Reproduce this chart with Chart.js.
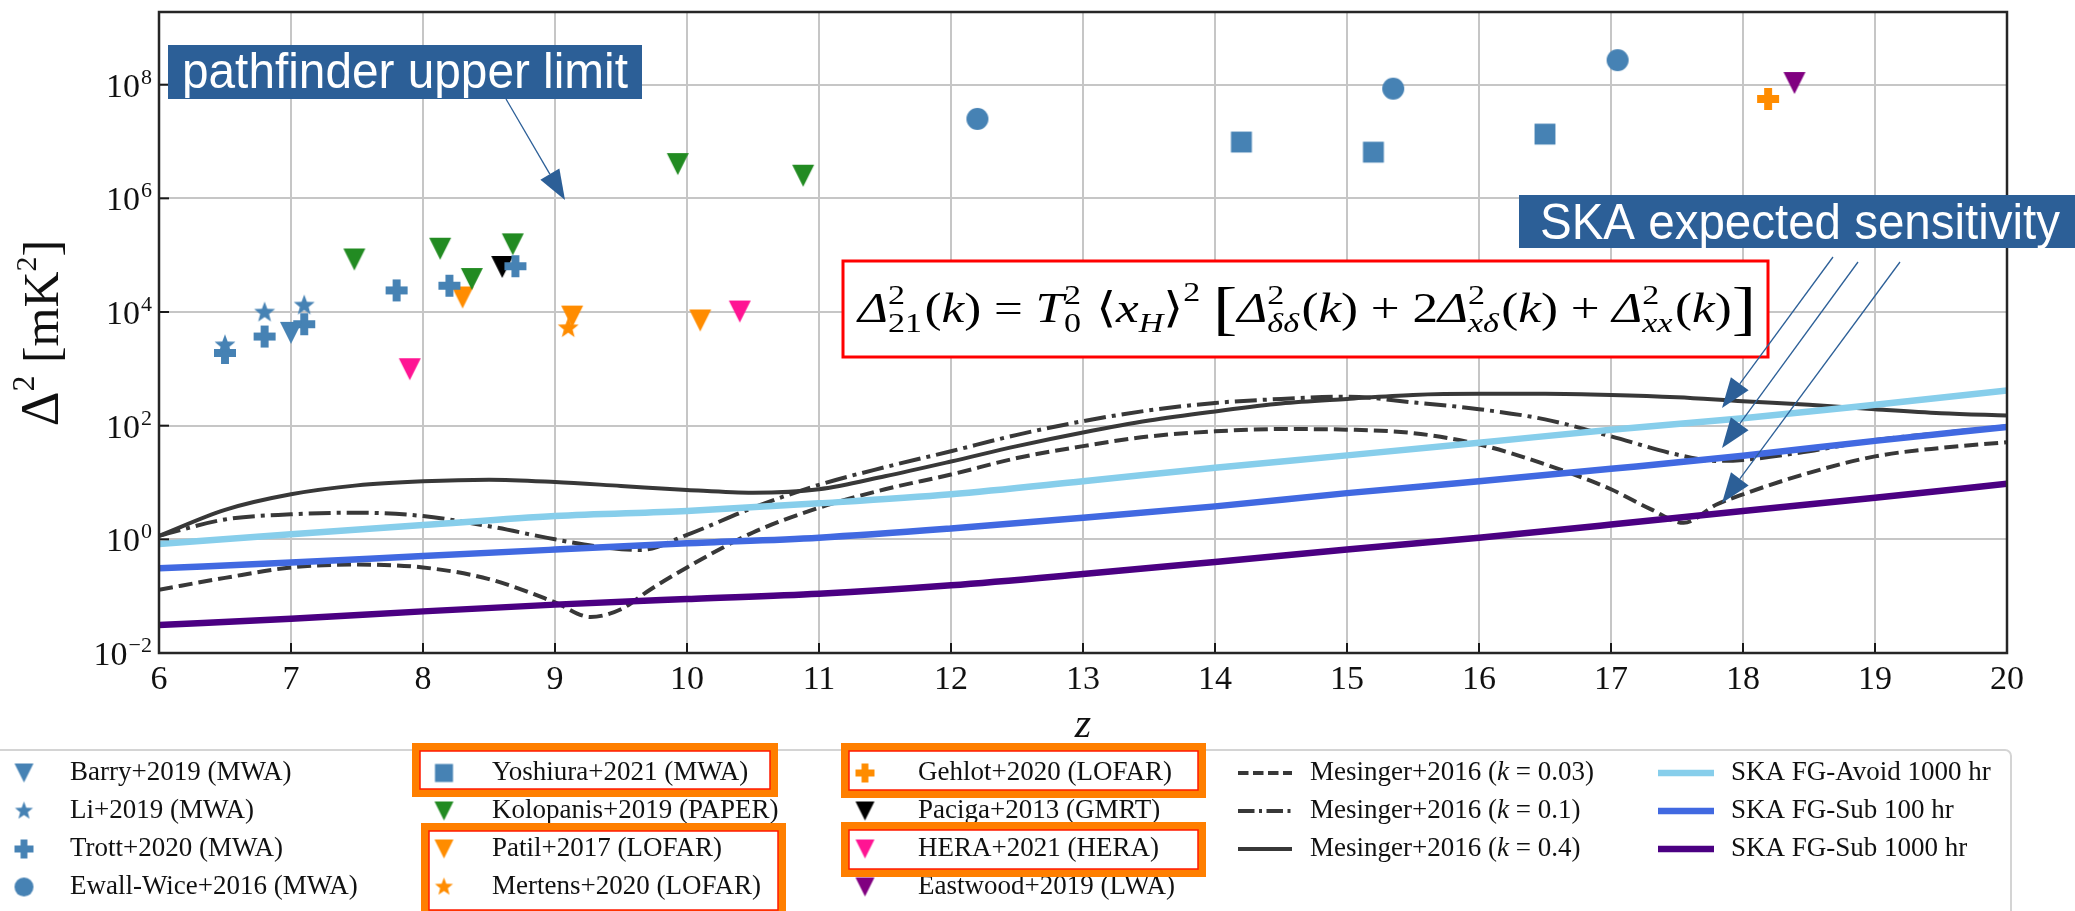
<!DOCTYPE html>
<html>
<head>
<meta charset="utf-8">
<script src="https://cdn.jsdelivr.net/npm/chart.js@4.4.1/dist/chart.umd.min.js"></script>
<style>
  html, body { margin: 0; padding: 0; background: #ffffff; overflow: hidden; }
  #wrap { width: 2075px; height: 911px; position: relative; }
</style>
</head>
<body>
<div id="wrap"><canvas id="c" width="2075" height="911"></canvas></div>
<script>
// ---------- axis ticks ----------
const zTicks = [6, 7, 8, 9, 10, 11, 12, 13, 14, 15, 16, 17, 18, 19, 20];
const powerTickValues = [1e-2, 1, 1e2, 1e4, 1e6, 1e8];
const powerTickExponents = ['\u22122', '0', '2', '4', '6', '8'];

// ---------- Mesinger+2016 model curves (z, Δ² in mK²) ----------
const zMes003 = [6, 6.5, 7, 7.5, 8, 8.5, 9, 9.27, 9.5, 9.72, 10, 10.5, 11, 11.5, 12, 12.5, 13, 13.5, 14, 14.5, 15, 15.5, 16, 16.5, 17, 17.3, 17.55, 17.8, 18, 18.5, 19, 19.5, 20];
const dMes003 = [0.13, 0.21, 0.32, 0.36, 0.32, 0.20, 0.078, 0.043, 0.059, 0.13, 0.32, 1.32, 3.6, 7.6, 13.8, 26.9, 43.7, 64.6, 79.4, 87.1, 85.1, 74.1, 46.8, 20.9, 7.6, 3.4, 1.95, 4.1, 6.2, 14.8, 28.8, 40.7, 51.3];

const zMes01 = [6, 6.5, 7, 7.5, 8, 8.5, 9, 9.3, 9.65, 10, 10.5, 11, 11.5, 12, 12.5, 13, 13.5, 14, 14.5, 15, 15.5, 16, 16.5, 17, 17.5, 17.8, 18, 18.5, 19, 19.5, 20];
const dMes01 = [1.15, 2.24, 2.75, 2.95, 2.57, 1.70, 1.0, 0.76, 0.65, 1.2, 3.6, 9.1, 18.6, 35.5, 69, 120, 186, 251, 295, 324, 257, 195, 129, 65, 31, 24, 25, 35.5, 56, 74, 98];

const zMes04 = [6, 6.5, 7, 7.5, 8, 8.5, 9, 9.5, 10, 10.5, 11, 11.5, 12, 12.5, 13, 13.5, 14, 14.5, 15, 15.5, 16, 16.5, 17, 17.5, 18, 18.5, 19, 19.5, 20];
const dMes04 = [1.15, 3.3, 6.2, 8.9, 10.5, 11.2, 10.2, 8.7, 7.4, 6.6, 7.6, 12.9, 23.4, 43.7, 75.9, 123, 178, 245, 295, 347, 363, 363, 347, 316, 269, 234, 195, 166, 151];

// ---------- SKA sensitivity curves ----------
const zSKA = [6, 7, 8, 9, 10, 11, 12, 13, 14, 15, 16, 17, 18, 19, 20];
const dSkaAvoid1000 = [0.83, 1.23, 1.78, 2.57, 3.16, 4.3, 6.2, 10.5, 18.2, 30, 50, 85, 135, 234, 417];
const dSkaSub100 = [0.31, 0.39, 0.51, 0.66, 0.85, 1.07, 1.55, 2.4, 3.8, 6.5, 10.5, 17.4, 29.5, 54, 95];
const dSkaSub1000 = [0.031, 0.040, 0.054, 0.071, 0.089, 0.11, 0.155, 0.245, 0.40, 0.66, 1.07, 1.82, 3.16, 5.4, 9.5];

// ---------- measured upper limits ----------
const barryZ = [7.0], barryD = [4300];
const liZ = [6.5, 6.8, 7.1], liD = [2600, 9800, 13000];
const trottZ = [6.5, 6.8, 7.1, 7.8, 8.2, 8.7], trottD = [1900, 3700, 6100, 24000, 29000, 64000];
const ewallZ = [12.2, 15.35, 17.05], ewallD = [2.5e7, 8.5e7, 2.7e8];
const yoshiuraZ = [14.2, 15.2, 16.5], yoshiuraD = [9.8e6, 6.5e6, 1.35e7];
const kolopanisZ = [7.48, 8.13, 8.37, 8.68, 9.93, 10.88], kolopanisD = [8.4e4, 1.3e5, 3.8e4, 1.55e5, 4.0e6, 2.5e6];
const patilZ = [8.3, 9.13, 10.1], patilD = [18000, 8300, 7100];
const mertensZ = [9.1], mertensD = [5200];
const gehlotZ = [18.19], gehlotD = [5.6e7];
const pacigaZ = [8.6], pacigaD = [6.2e4];
const heraZ = [7.9, 10.4], heraD = [985, 10200];
const eastwoodZ = [18.39], eastwoodD = [1.07e8];

const SERIF = '"Liberation Serif", "DejaVu Serif", serif';
const SANS = '"Liberation Sans", Arial, sans-serif';

// filled marker glyphs used as point styles
function markerCanvas(shape, color, size) {
  const pad = 2, s = Math.ceil(size + pad * 2);
  const cv = document.createElement('canvas');
  cv.width = s; cv.height = s;
  const g = cv.getContext('2d');
  g.fillStyle = color;
  g.translate(s / 2, s / 2);
  const r = size / 2;
  g.beginPath();
  if (shape === 'v') {
    g.moveTo(-r, -r); g.lineTo(r, -r); g.lineTo(0, r); g.closePath();
  } else if (shape === 'o') {
    g.arc(0, 0, r, 0, Math.PI * 2);
  } else if (shape === 's') {
    g.rect(-r * 0.95, -r * 0.95, r * 1.9, r * 1.9);
  } else if (shape === '*') {
    for (let i = 0; i < 10; i++) {
      const a = -Math.PI / 2 + i * Math.PI / 5;
      const rr = i % 2 ? r * 0.42 : r;
      const px = rr * Math.cos(a), py = rr * Math.sin(a);
      if (i === 0) g.moveTo(px, py); else g.lineTo(px, py);
    }
    g.closePath();
  } else if (shape === 'P') {
    const w = r * 0.36;
    g.moveTo(-w, -r); g.lineTo(w, -r); g.lineTo(w, -w); g.lineTo(r, -w); g.lineTo(r, w);
    g.lineTo(w, w); g.lineTo(w, r); g.lineTo(-w, r); g.lineTo(-w, w); g.lineTo(-r, w);
    g.lineTo(-r, -w); g.lineTo(-w, -w); g.closePath();
  }
  g.fill();
  return cv;
}

const pointSeries = [
  { label: 'Barry+2019 (MWA)', z: barryZ, d: barryD, shape: 'v', color: '#4682b4' },
  { label: 'Li+2019 (MWA)', z: liZ, d: liD, shape: '*', color: '#4682b4' },
  { label: 'Trott+2020 (MWA)', z: trottZ, d: trottD, shape: 'P', color: '#4682b4' },
  { label: 'Ewall-Wice+2016 (MWA)', z: ewallZ, d: ewallD, shape: 'o', color: '#4682b4' },
  { label: 'Yoshiura+2021 (MWA)', z: yoshiuraZ, d: yoshiuraD, shape: 's', color: '#4682b4' },
  { label: 'Kolopanis+2019 (PAPER)', z: kolopanisZ, d: kolopanisD, shape: 'v', color: '#228b22' },
  { label: 'Patil+2017 (LOFAR)', z: patilZ, d: patilD, shape: 'v', color: '#ff8c00' },
  { label: 'Mertens+2020 (LOFAR)', z: mertensZ, d: mertensD, shape: '*', color: '#ff8c00' },
  { label: 'Gehlot+2020 (LOFAR)', z: gehlotZ, d: gehlotD, shape: 'P', color: '#ff8c00' },
  { label: 'Paciga+2013 (GMRT)', z: pacigaZ, d: pacigaD, shape: 'v', color: '#000000' },
  { label: 'HERA+2021 (HERA)', z: heraZ, d: heraD, shape: 'v', color: '#ff1493' },
  { label: 'Eastwood+2019 (LWA)', z: eastwoodZ, d: eastwoodD, shape: 'v', color: '#800080' }
];

const curveSeries = [
  { label: 'Mesinger+2016 (k = 0.03)', z: zMes003, d: dMes003, color: '#383838', width: 4, dash: [14, 6] },
  { label: 'Mesinger+2016 (k = 0.1)', z: zMes01, d: dMes01, color: '#383838', width: 4, dash: [22, 6, 4, 6] },
  { label: 'Mesinger+2016 (k = 0.4)', z: zMes04, d: dMes04, color: '#383838', width: 4, dash: [] },
  { label: 'SKA FG-Avoid 1000 hr', z: zSKA, d: dSkaAvoid1000, color: '#87ceeb', width: 6.5, dash: [] },
  { label: 'SKA FG-Sub 100 hr', z: zSKA, d: dSkaSub100, color: '#4169e1', width: 6.5, dash: [] },
  { label: 'SKA FG-Sub 1000 hr', z: zSKA, d: dSkaSub1000, color: '#4b0082', width: 6.5, dash: [] }
];

const toXY = (zs, ds) => zs.map((z, i) => ({ x: z, y: ds[i] }));

const datasets = [];
pointSeries.forEach(s => {
  s.img = markerCanvas(s.shape, s.color, 22);
  s.legendImg = markerCanvas(s.shape, s.color, 19);
  datasets.push({
    label: s.label, data: toXY(s.z, s.d), showLine: false,
    pointStyle: s.img, pointRadius: 11, pointHoverRadius: 11,
    backgroundColor: s.color, borderColor: s.color
  });
});
// SKA curves above the model curves
[3, 4, 5, 0, 1, 2].forEach(i => {
  const s = curveSeries[i];
  datasets.push({
    label: s.label, data: toXY(s.z, s.d), showLine: true, pointRadius: 0,
    borderColor: s.color, borderWidth: s.width, borderDash: s.dash,
    cubicInterpolationMode: 'monotone', fill: false, borderCapStyle: 'butt'
  });
});

// ---------- drawing helpers ----------
function fitText(ctx, text, x0, x1, baseY, font, color) {
  ctx.save();
  ctx.font = font; ctx.fillStyle = color; ctx.textBaseline = 'alphabetic'; ctx.textAlign = 'left';
  const w = ctx.measureText(text).width;
  ctx.translate(x0, baseY); ctx.scale((x1 - x0) / w, 1);
  ctx.fillText(text, 0, 0);
  ctx.restore();
}

function arrow(ctx, x1, y1, x2, y2, color) {
  const ang = Math.atan2(y2 - y1, x2 - x1);
  const hl = 30, hw = 11;
  const bx = x2 - hl * Math.cos(ang), by = y2 - hl * Math.sin(ang);
  ctx.save();
  ctx.strokeStyle = color; ctx.fillStyle = color; ctx.lineWidth = 1.3;
  ctx.beginPath(); ctx.moveTo(x1, y1); ctx.lineTo(bx, by); ctx.stroke();
  ctx.beginPath();
  ctx.moveTo(x2, y2);
  ctx.lineTo(bx + hw * Math.sin(ang), by - hw * Math.cos(ang));
  ctx.lineTo(bx - hw * Math.sin(ang), by + hw * Math.cos(ang));
  ctx.closePath(); ctx.fill();
  ctx.restore();
}

function drawEquation(ctx, x0, x1, baseY) {
  const M = 42, S = 28, B = 60;
  const it = s => `italic ${s}px ${SERIF}`;
  const up = s => `${s}px ${SERIF}`;
  const sup = -18, sub = 10;
  const D = ['\u0394', it(M), 0];
  const st = (b, ital) => ({ stack: [['2', up(S), sup], [b, ital ? it(S) : up(S), sub]] });
  const K = [['(', up(M), 0], ['k', it(M), 0], [')', up(M), 0]];
  const toks = [
    D, st('21', false), ...K, [' = ', up(M), 0],
    ['T', it(M), 0], st('0', false), [' \u27E8', up(M), 0], ['x', it(M), 0], ['H', it(S), sub],
    ['\u27E9', up(M), 0], ['2', up(S), sup - 3], [' ', up(M), 0], ['[', up(B), 6],
    D, st('\u03B4\u03B4', true), ...K, [' + 2', up(M), 0],
    D, st('x\u03B4', true), ...K, [' + ', up(M), 0],
    D, st('xx', true), ...K, [']', up(B), 6]
  ];
  const widthOf = t => {
    if (t.stack) {
      return Math.max(...t.stack.map(p => { ctx.font = p[1]; return ctx.measureText(p[0]).width; })) + 2;
    }
    ctx.font = t[1];
    return ctx.measureText(t[0]).width;
  };
  ctx.save();
  const total = toks.reduce((a, t) => a + widthOf(t), 0);
  ctx.translate(x0, baseY);
  ctx.scale((x1 - x0) / total, 1);
  ctx.fillStyle = '#000'; ctx.textBaseline = 'alphabetic'; ctx.textAlign = 'left';
  let x = 0;
  toks.forEach(t => {
    const w = widthOf(t);
    const parts = t.stack ? t.stack : [t];
    parts.forEach(p => { ctx.font = p[1]; ctx.fillText(p[0], x, p[2]); });
    x += w;
  });
  ctx.restore();
}

// text with an italic "k" inside "(k = ...)"
const LEG_SIZE = 27;
function drawLegendLabel(ctx, label, x, y) {
  const font = `${LEG_SIZE}px ${SERIF}`;
  const m = label.match(/^(.*\()k( = .*)$/);
  ctx.textBaseline = 'middle'; ctx.textAlign = 'left'; ctx.fillStyle = '#111';
  if (!m) { ctx.font = font; ctx.fillText(label, x, y); return; }
  ctx.font = font; ctx.fillText(m[1], x, y);
  let xx = x + ctx.measureText(m[1]).width;
  ctx.font = `italic ${LEG_SIZE}px ${SERIF}`; ctx.fillText('k', xx, y);
  xx += ctx.measureText('k').width;
  ctx.font = font; ctx.fillText(m[2], xx, y);
}

const legendRows = [773, 811, 849, 887];
const legendColumns = [
  { mx: 24, tx: 70, kind: 'pt', items: [0, 1, 2, 3] },
  { mx: 444, tx: 492, kind: 'pt', items: [4, 5, 6, 7] },
  { mx: 865, tx: 918, kind: 'pt', items: [8, 9, 10, 11] },
  { lx0: 1238, lx1: 1292, tx: 1310, kind: 'ln', items: [0, 1, 2] },
  { lx0: 1658, lx1: 1714, tx: 1731, kind: 'ln', items: [3, 4, 5] }
];
const highlightBoxes = [
  [412, 743, 778, 797], [421, 823, 786, 918], [841, 743, 1206, 798], [841, 822, 1206, 877]
];

const decor = {
  id: 'decor',
  afterDatasetsDraw(chart) {
    const ctx = chart.ctx, a = chart.chartArea;
    const xs = chart.scales.x, ys = chart.scales.y;
    ctx.save();
    // inward tick marks
    ctx.strokeStyle = '#1a1a1a'; ctx.lineWidth = 2;
    zTicks.forEach(v => {
      const px = xs.getPixelForValue(v);
      ctx.beginPath(); ctx.moveTo(px, a.bottom); ctx.lineTo(px, a.bottom - 10); ctx.stroke();
    });
    powerTickValues.forEach(v => {
      const py = ys.getPixelForValue(v);
      ctx.beginPath(); ctx.moveTo(a.left, py); ctx.lineTo(a.left + 10, py); ctx.stroke();
    });
    // frame
    ctx.strokeStyle = '#262626'; ctx.lineWidth = 2.5;
    ctx.strokeRect(a.left, a.top, a.right - a.left, a.bottom - a.top);
    ctx.restore();
  },
  afterDraw(chart) {
    const ctx = chart.ctx, a = chart.chartArea;
    const xs = chart.scales.x, ys = chart.scales.y;
    ctx.save();
    // x tick labels
    ctx.fillStyle = '#111'; ctx.font = `34px ${SERIF}`;
    ctx.textAlign = 'center'; ctx.textBaseline = 'alphabetic';
    zTicks.forEach(v => ctx.fillText(String(v), xs.getPixelForValue(v), 689));
    // y tick labels 10^n
    powerTickValues.forEach((v, i) => {
      const py = ys.getPixelForValue(v);
      const ex = powerTickExponents[i];
      ctx.textAlign = 'left';
      ctx.font = `22px ${SERIF}`;
      const we = ctx.measureText(ex).width;
      ctx.font = `34px ${SERIF}`;
      const wb = ctx.measureText('10').width;
      const right = a.left - 7;
      ctx.fillText('10', right - we - wb - 1, py + 12);
      ctx.font = `22px ${SERIF}`;
      ctx.fillText(ex, right - we, py - 1);
    });
    // axis titles
    ctx.font = `italic 42px ${SERIF}`; ctx.textAlign = 'center';
    ctx.fillText('z', (a.left + a.right) / 2, 737);
    ctx.save();
    const parts = [['\u0394', 54, 0], ['2', 32, -24], [' [mK', 50, 0], ['2', 30, -22], [']', 50, 0]];
    let tw = 0;
    parts.forEach(p => { ctx.font = `${p[1]}px ${SERIF}`; p.w = ctx.measureText(p[0]).width; tw += p.w; });
    ctx.translate(58, 333 + tw / 2); ctx.rotate(-Math.PI / 2);
    ctx.textAlign = 'left';
    let tx = 0;
    parts.forEach(p => { ctx.font = `${p[1]}px ${SERIF}`; ctx.fillText(p[0], tx, p[2]); tx += p.w; });
    ctx.restore();

    // legend
    ctx.save();
    ctx.fillStyle = '#ffffff'; ctx.strokeStyle = '#d4d4d4'; ctx.lineWidth = 2;
    ctx.beginPath(); ctx.roundRect(-12, 750, 2023, 200, 6); ctx.fill(); ctx.stroke();
    legendColumns.forEach(col => {
      col.items.forEach((idx, r) => {
        const y = legendRows[r];
        if (col.kind === 'pt') {
          const s = pointSeries[idx];
          ctx.drawImage(s.legendImg, col.mx - s.legendImg.width / 2, y - s.legendImg.height / 2);
          drawLegendLabel(ctx, s.label, col.tx, y);
        } else {
          const s = curveSeries[idx];
          ctx.save();
          ctx.strokeStyle = s.color; ctx.lineWidth = s.width; ctx.setLineDash(s.dash.map(d => d * 0.75));
          ctx.beginPath(); ctx.moveTo(col.lx0, y); ctx.lineTo(col.lx1, y); ctx.stroke();
          ctx.restore();
          drawLegendLabel(ctx, s.label, col.tx, y);
        }
      });
    });
    highlightBoxes.forEach(b => {
      ctx.strokeStyle = '#ff7f00'; ctx.lineWidth = 8;
      ctx.strokeRect(b[0] + 4, b[1] + 4, b[2] - b[0] - 8, b[3] - b[1] - 8);
      ctx.strokeStyle = '#ff1a00'; ctx.lineWidth = 1.5;
      ctx.strokeRect(b[0] + 8, b[1] + 8, b[2] - b[0] - 16, b[3] - b[1] - 16);
    });
    ctx.restore();

    // equation box
    ctx.fillStyle = '#ffffff'; ctx.fillRect(843, 261, 925, 96);
    ctx.strokeStyle = '#ff0000'; ctx.lineWidth = 3; ctx.strokeRect(843, 261, 925, 96);
    drawEquation(ctx, 858, 1756, 322);

    // annotation call-outs
    const blue = '#2c5f97';
    ctx.fillStyle = blue; ctx.fillRect(168, 45, 474, 54);
    fitText(ctx, 'pathfinder upper limit', 182, 628, 88, `50px ${SANS}`, '#ffffff');
    arrow(ctx, 506, 99, 565, 200, blue);

    ctx.fillStyle = blue; ctx.fillRect(1519, 195, 560, 53);
    fitText(ctx, 'SKA expected sensitivity', 1540, 2060, 239, `50px ${SANS}`, '#ffffff');
    arrow(ctx, 1833, 257, 1722, 408, blue);
    arrow(ctx, 1858, 262, 1722, 448, blue);
    arrow(ctx, 1900, 262, 1722, 503, blue);
    ctx.restore();
  }
};

new Chart(document.getElementById('c'), {
  type: 'scatter',
  data: { datasets },
  options: {
    responsive: false,
    animation: false,
    events: [],
    devicePixelRatio: 1,
    layout: { padding: { left: 159, right: 68, top: 11, bottom: 258 } },
    plugins: { legend: { display: false }, tooltip: { enabled: false }, title: { display: false } },
    scales: {
      x: {
        type: 'linear', min: 6, max: 20,
        afterBuildTicks: s => { s.ticks = zTicks.map(v => ({ value: v })); },
        ticks: { display: false },
        grid: { color: '#c6c6c6', lineWidth: 2, drawTicks: false },
        border: { display: false }
      },
      y: {
        type: 'logarithmic', min: 0.01, max: 1.9e9,
        afterBuildTicks: s => { s.ticks = powerTickValues.map(v => ({ value: v })); },
        ticks: { display: false },
        grid: { color: '#c6c6c6', lineWidth: 2, drawTicks: false },
        border: { display: false }
      }
    }
  },
  plugins: [decor]
});
</script>
</body>
</html>
